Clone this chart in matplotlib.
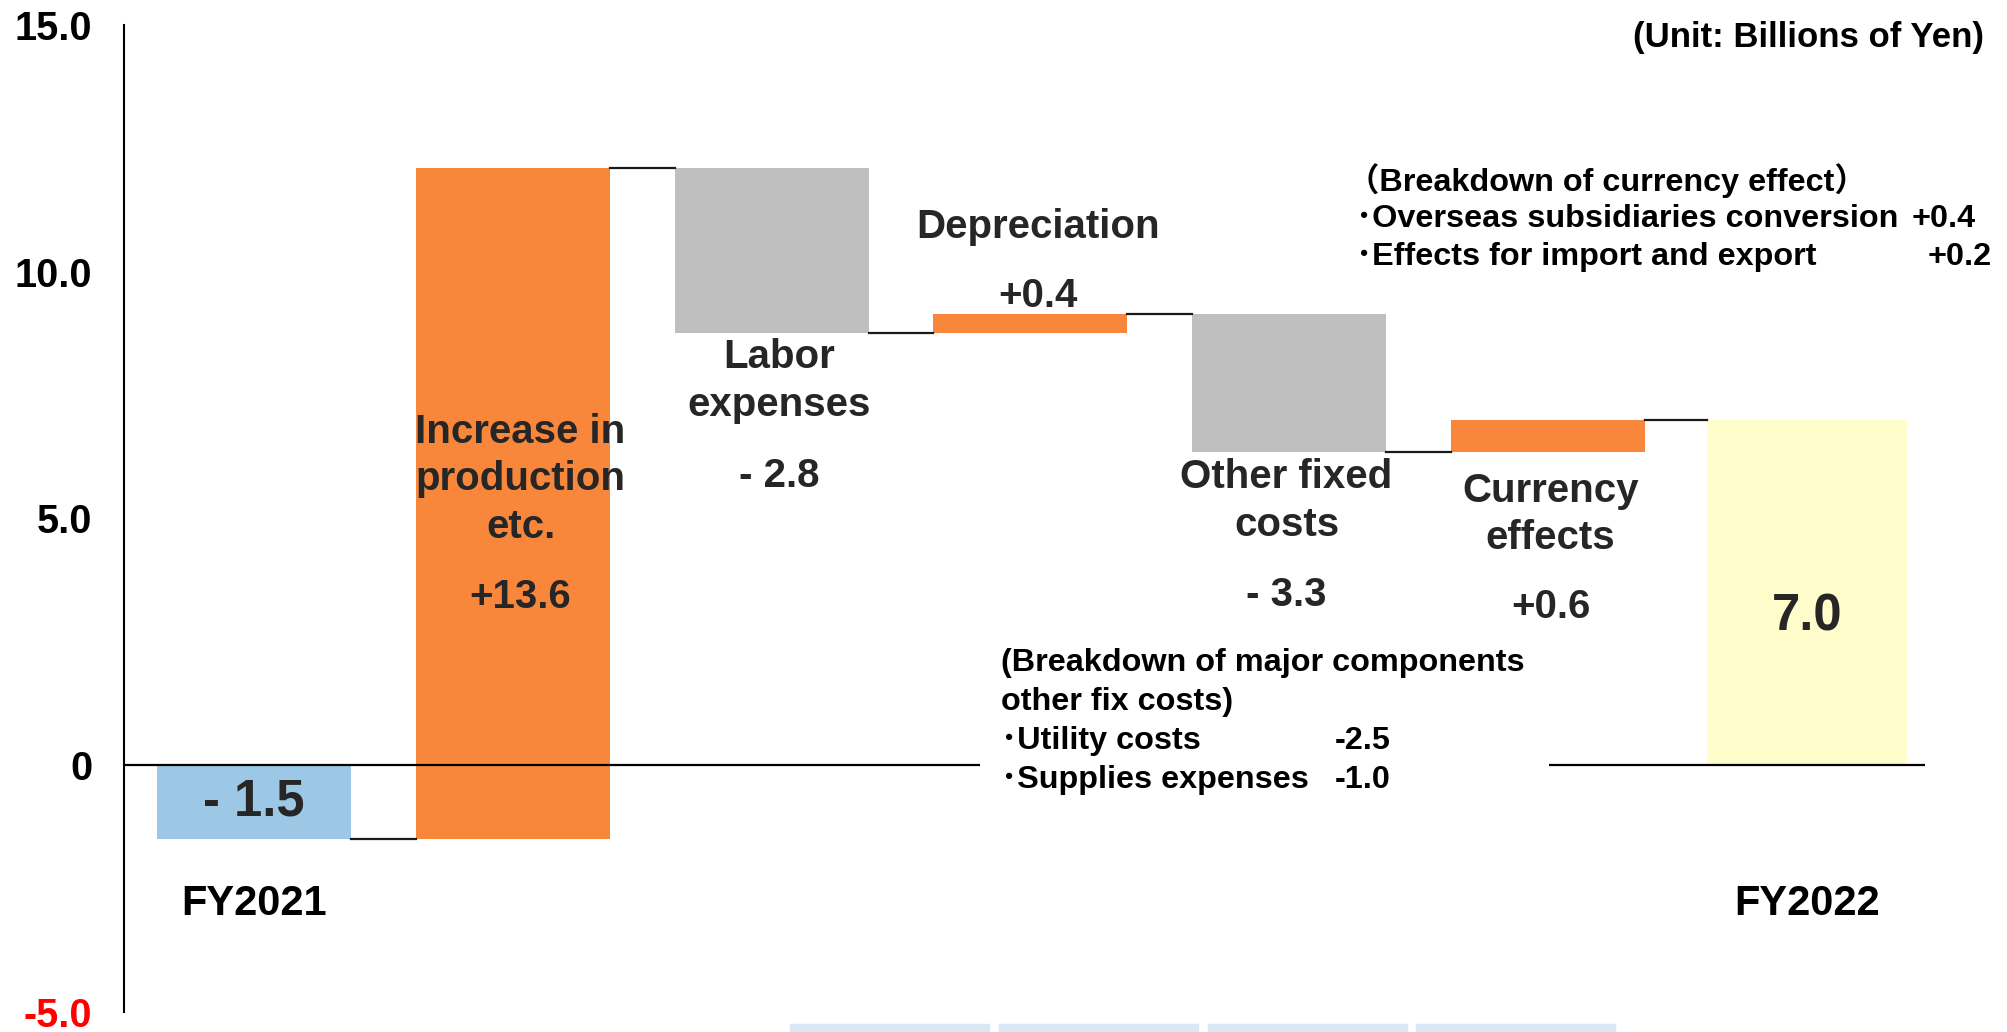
import matplotlib
matplotlib.use('Agg')
import matplotlib.pyplot as plt
import numpy as np
from matplotlib.patches import Rectangle

plt.rcParams['font.family'] = ['Liberation Sans', 'Noto Sans CJK JP', 'DejaVu Sans']
plt.rcParams['font.weight'] = 'bold'

# ---- data (Billions of Yen) ----
start_label = 'FY2021'
end_label = 'FY2022'
start_value = -1.5
end_value = 7.0
start_text = '- 1.5'
end_text = '7.0'

step_names = ['Increase in\nproduction\netc.', 'Labor\nexpenses', 'Depreciation',
              'Other fixed\ncosts', 'Currency\neffects']
step_texts = ['+13.6', '- 2.8', '+0.4', '- 3.3', '+0.6']
# bar heights as drawn in the slide
step_bars = [13.6, -3.35, 0.4, -2.8, 0.65]

fx_items = ['（Breakdown of currency effect）', '･Overseas subsidiaries conversion',
            '･Effects for import and export']
fx_values = ['', '+0.4', '+0.2']
fixed_items = ['(Breakdown of major components', 'other fix costs)',
               '･Utility costs', '･Supplies expenses']
fixed_values = ['', '', '-2.5', '-1.0']

yticks = [-5, 0, 5, 10, 15]
ytick_labels = ['-5.0', '0', '5.0', '10.0', '15.0']

# ---- style ----
ORANGE = '#F8873C'
GRAY = '#BFBFBF'
BLUE = '#9DC8E5'
YELLOW = '#FFFDCC'
TXT = '#262626'

fig = plt.figure(figsize=(20.08, 10.32), dpi=100)
ax = fig.add_axes([0.06175, 0.0197, 0.93825, 0.9561])
ax.set_xlim(-0.5023, 6.7774)
ax.set_ylim(-5, 15)

w = 0.75
w_end = 0.773
n = len(step_bars)
x_end = n + 1

levels = start_value + np.cumsum(step_bars)
bottoms = np.concatenate([[start_value], levels[:-1]])

# bars
ax.bar(0, start_value, width=w, color=BLUE, zorder=2)
step_colors = [ORANGE if v > 0 else GRAY for v in step_bars]
ax.bar(np.arange(1, n + 1), step_bars, bottom=bottoms, width=w, color=step_colors, zorder=2)
ax.bar(x_end, end_value, width=w_end, color=YELLOW, zorder=2)

# connector lines
conn_levels = [start_value] + list(levels)
for i, lv in enumerate(conn_levels):
    x0 = i + w / 2
    x1 = i + 1 - (w_end if i + 1 == x_end else w) / 2
    ax.plot([x0, x1], [lv, lv], color='#1a1a1a', lw=1.6, zorder=3)

# zero line (broken behind the fixed-cost note)
ax.hlines(0, -0.5023, 2.805, color='black', lw=1.6, zorder=3)
ax.hlines(0, 5.004, 6.457, color='black', lw=1.6, zorder=3)

# axis styling
for s in ['top', 'right', 'bottom']:
    ax.spines[s].set_visible(False)
ax.spines['left'].set_linewidth(1.5)
ax.set_xticks([])
ax.set_yticks(yticks)
ax.set_yticklabels(ytick_labels, fontsize=28.5, fontweight='bold')
ax.tick_params(axis='y', length=0, pad=23)
ax.get_yticklabels()[0].set_color('red')

# labels in/around bars
ax.text(0, -0.75, start_text, ha='center', va='center', fontsize=36.5, color=TXT)
ax.text(x_end, 3.0, end_text, ha='center', va='center', fontsize=36.5, color=TXT)
ax.text(0, -2.82, start_label, ha='center', va='center', fontsize=30, color='black')
ax.text(x_end, -2.82, end_label, ha='center', va='center', fontsize=30, color='black')

name_dx = [0.03, 0.03, 0.03, -0.01, 0.01]
name_y = [5.79, 7.78, 10.91, 5.35, 5.08]
value_y = [3.41, 5.86, 9.51, 3.45, 3.20]
for i in range(n):
    ax.text(i + 1 + name_dx[i], name_y[i], step_names[i], ha='center', va='center',
            fontsize=29, color=TXT, linespacing=1.32)
    ax.text(i + 1 + name_dx[i], value_y[i], step_texts[i], ha='center', va='center',
            fontsize=29, color=TXT)

fig.text(0.988, 0.964, '(Unit: Billions of Yen)', ha='right', va='center', fontsize=25)

# breakdown notes
fx_y = [0.825, 0.788, 0.751]
fx_vx = [0, 0.952, 0.960]
for i in range(len(fx_items)):
    fig.text(0.6755 if i else 0.671, fx_y[i], fx_items[i], ha='left', va='center', fontsize=23.3)
    if fx_values[i]:
        fig.text(fx_vx[i], fx_y[i], fx_values[i], ha='left', va='center', fontsize=23.3)

fixed_y = [0.3576, 0.3198, 0.2820, 0.2442]
for i in range(len(fixed_items)):
    fig.text(0.4985, fixed_y[i], fixed_items[i], ha='left', va='center', fontsize=23.3)
    if fixed_values[i]:
        fig.text(0.6646, fixed_y[i], fixed_values[i], ha='left', va='center', fontsize=23.3)

# strips of the next slide element cut off at the bottom edge
for x0 in [790, 999, 1208, 1416]:
    fig.patches.append(Rectangle((x0 / 2008, 0), 199 / 2008, 8 / 1032,
                                 transform=fig.transFigure, color='#DAE8F5'))

fig.savefig('out.png', dpi=100)
